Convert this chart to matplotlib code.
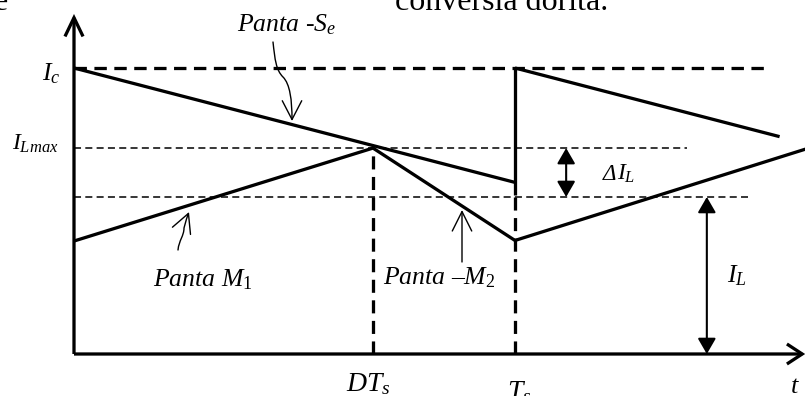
import matplotlib
matplotlib.use("Agg")
import matplotlib.pyplot as plt
from matplotlib.patches import FancyArrowPatch
from matplotlib.path import Path

plt.rcParams['mathtext.fontset'] = 'custom'
plt.rcParams['mathtext.it'] = 'Liberation Serif:italic'
plt.rcParams['mathtext.rm'] = 'Liberation Serif'
plt.rcParams['mathtext.bf'] = 'Liberation Serif:bold'

# ---- data (time normalised to T_s, current normalised to I_c) ----
T_S = 1.0
DT_S = 0.678
I_C = 1.0
I_LMAX = 0.72
I_LAVG = 0.549
# compensation ramp (-S_e)
ramp1_t = [0.0, 1.0]
ramp1_i = [1.0, 0.60]
ramp2_t = [1.0, 1.60]
ramp2_i = [1.0, 0.76]
jump_i = [0.556, 1.0]
# inductor current
il_t = [0.0, 0.678, 1.0, 1.66]
il_i = [0.395, 0.72, 0.397, 0.717]
# reference-line extents
ic_line_end = 1.571
ilmax_line_end = 1.39
ilavg_line_end = 1.528
x_axis_end = 1.658
y_axis_end = 1.189
dI_x = 1.116
IL_x = 1.435

W, H = 805, 396
fig = plt.figure(figsize=(W / 100, H / 100), dpi=100)
ax = fig.add_axes([74 / W, 42 / H, 441 / W, 286 / H])
ax.set_xlim(0, 1)
ax.set_ylim(0, 1)
ax.axis('off')


def P(px, py):
    """pixel (from top-left) -> data coordinates"""
    return ((px - 74) / 441.0, (354 - py) / 286.0)


LW = 2.35
THIN = 1.1
K = 'black'

# axes with open arrows
ax.add_patch(FancyArrowPatch((0, 0), (0, y_axis_end), arrowstyle='->,head_length=1.35,head_width=0.65',
                             mutation_scale=10, lw=LW, color=K, shrinkA=0, shrinkB=0, clip_on=False,
                             capstyle='butt', joinstyle='miter'))
ax.add_patch(FancyArrowPatch((0, 0), (x_axis_end, 0), arrowstyle='->,head_length=1.1,head_width=0.72',
                             mutation_scale=10, lw=LW, color=K, shrinkA=0, shrinkB=0, clip_on=False,
                             capstyle='butt', joinstyle='miter'))

# reference dashed lines
ax.plot([0, ic_line_end], [I_C, I_C], color=K, lw=LW, dashes=(3.8, 2.3), clip_on=False)
ax.plot([0, ilmax_line_end], [I_LMAX, I_LMAX], color=K, lw=THIN, dashes=(4.6, 2.8), clip_on=False)
ax.plot([0, ilavg_line_end], [I_LAVG, I_LAVG], color=K, lw=THIN, dashes=(4.6, 2.8), clip_on=False)
ax.plot([DT_S, DT_S], [0, I_LMAX], color=K, lw=LW, dashes=(4.0, 2.3), clip_on=False)
ax.plot([T_S, T_S], [0, jump_i[0]], color=K, lw=LW, dashes=(4.0, 2.3), clip_on=False)

# ramps and inductor current
ax.plot(ramp1_t, ramp1_i, color=K, lw=LW, clip_on=False, solid_capstyle='butt')
ax.plot(ramp2_t, ramp2_i, color=K, lw=LW, clip_on=False, solid_capstyle='butt')
ax.plot([T_S, T_S], jump_i, color=K, lw=LW, clip_on=False, solid_capstyle='butt')
ax.plot(il_t, il_i, color=K, lw=LW, clip_on=False, solid_capstyle='butt', solid_joinstyle='miter')

# double arrows
for x, y0, y1 in [(dI_x, I_LAVG, I_LMAX), (IL_x, 0, I_LAVG)]:
    ax.add_patch(FancyArrowPatch((x, y0), (x, y1), arrowstyle='<|-|>,head_length=0.95,head_width=0.55',
                                 mutation_scale=10, lw=1.5, color=K, shrinkA=0, shrinkB=0, clip_on=False))

# annotation arrows
verts = [P(273, 42), P(275, 60), P(276, 70), P(283, 77), P(290, 84), P(292, 100), P(292, 121)]
codes = [Path.MOVETO] + [Path.CURVE4] * 6
ax.add_patch(FancyArrowPatch(path=Path(verts, codes), arrowstyle='->,head_length=1.35,head_width=0.7',
                             mutation_scale=10, lw=1.0, color=K, clip_on=False))
verts = [P(178, 250), P(179, 240), P(184, 236), P(184, 228), P(186, 221), P(187, 217), P(189, 212)]
codes = [Path.MOVETO] + [Path.CURVE4] * 6
ax.add_patch(FancyArrowPatch(path=Path(verts, codes), arrowstyle='->,head_length=1.35,head_width=0.7',
                             mutation_scale=10, lw=1.0, color=K, clip_on=False))
ax.add_patch(FancyArrowPatch(P(462, 262), P(462, 210), arrowstyle='->,head_length=1.4,head_width=0.7',
                             mutation_scale=10, lw=1.0, color=K, shrinkA=0, shrinkB=0, clip_on=False))

# labels
serif = 'Liberation Serif'
def lab(px, py, s, size, style='italic', ha='left'):
    ax.text(*P(px, py), s, fontsize=size, family=serif, style=style, ha=ha, va='baseline', clip_on=False)

lab(42, 80, r'$I_c$', 18.5)
lab(12, 150, r'$I_{Lmax}$', 17)
lab(346, 391, r'$DT_s$', 20)
lab(507, 399, r'$T_s$', 20)
lab(790, 393, r'$t$', 19)
lab(603, 180, 'Δ', 16.5)
lab(617, 180, r'$I_L$', 17)
lab(727, 282, r'$I_L$', 18.5)
lab(237, 31, r'Panta -$S_e$', 18.5)
lab(153, 286, r'Panta $M_1$', 18.5)
lab(383, 284, r'Panta –$M_2$', 18.5)

# surrounding document text (partially cut off)
lab(395, 10, 'conversia dorita.', 23, style='normal')
lab(8, 10, 'e', 23, style='normal', ha='right')

fig.savefig('out.png', dpi=100)
